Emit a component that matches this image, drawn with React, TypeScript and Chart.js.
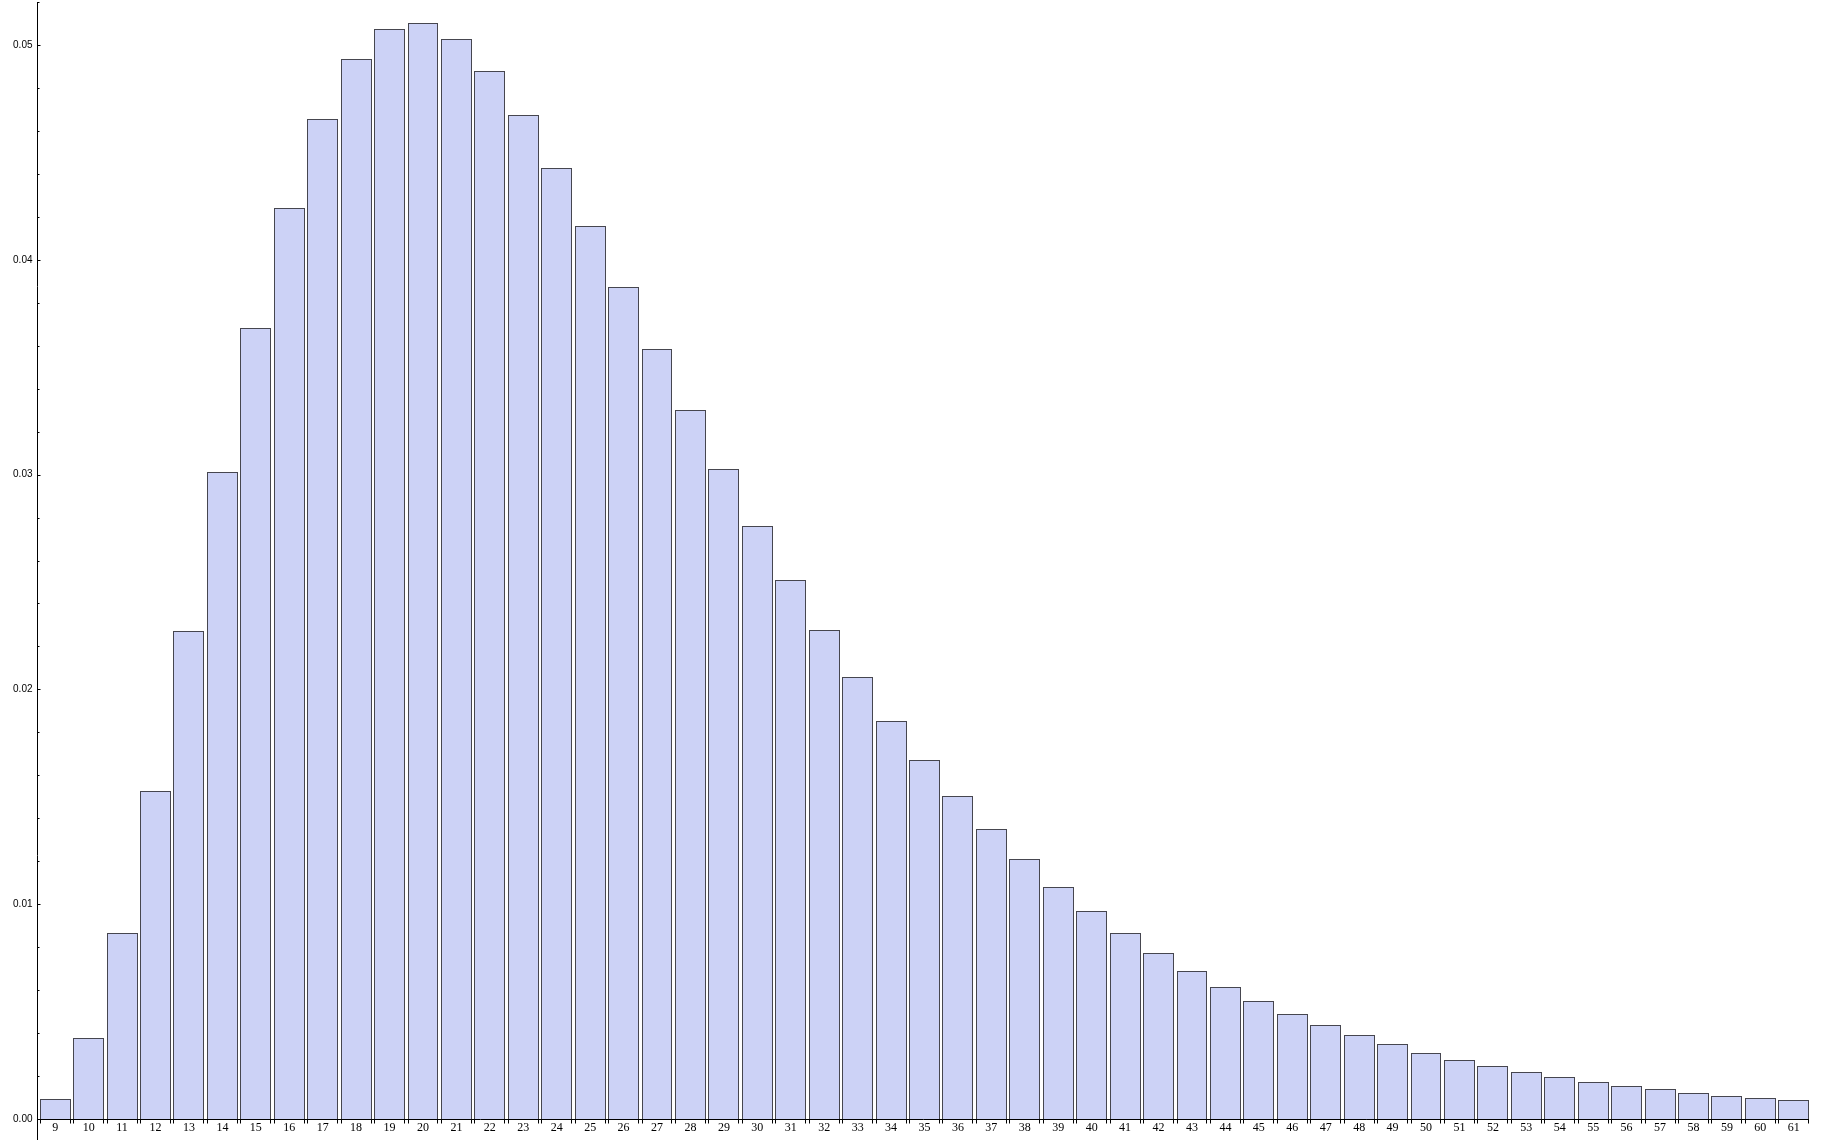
import { useEffect, useRef } from "react";
import Chart from "chart.js/auto";

const WIDTH = 1847;
const HEIGHT = 1143;

// outcome values on the x axis
const CATEGORIES = [
  9, 10, 11, 12, 13, 14, 15, 16, 17, 18, 19, 20, 21, 22, 23, 24, 25, 26, 27,
  28, 29, 30, 31, 32, 33, 34, 35, 36, 37, 38, 39, 40, 41, 42, 43, 44, 45, 46,
  47, 48, 49, 50, 51, 52, 53, 54, 55, 56, 57, 58, 59, 60, 61,
];

// probability of each outcome
const PROBABILITIES = [
  0.00093, 0.00379, 0.00866, 0.01527, 0.02272, 0.03012, 0.03683, 0.04241,
  0.04657, 0.04935, 0.05074, 0.05102, 0.05028, 0.04879, 0.04674, 0.04427,
  0.04157, 0.03873, 0.03585, 0.03301, 0.03026, 0.02761, 0.02509, 0.02277,
  0.02058, 0.01853, 0.01671, 0.01504, 0.0135, 0.0121, 0.0108, 0.00968,
  0.00866, 0.00773, 0.00689, 0.00615, 0.00549, 0.00489, 0.00438, 0.00391,
  0.00349, 0.00307, 0.00274, 0.00247, 0.00219, 0.00196, 0.00172, 0.00154,
  0.0014, 0.00121, 0.00107, 0.00098, 0.00088,
];

const Y_MAX = 0.052;
const Y_STEP = 0.002;

const isMajor = (v: number) => {
  const n = v * 100;
  return Math.abs(n - Math.round(n)) < 1e-6;
};

// snap bar rectangles to whole pixels so the outlines stay crisp
const snapPlugin = {
  id: "snapBars",
  beforeDatasetsDraw(chart: any) {
    chart.getDatasetMeta(0).data.forEach((bar: any) => {
      const left = Math.round(bar.x - bar.width / 2);
      const right = Math.round(bar.x + bar.width / 2);
      bar.width = right - left;
      bar.x = left + bar.width / 2;
      bar.y = Math.round(bar.y);
      bar.base = Math.round(bar.base);
    });
  },
};

// Mathematica-style axes: y axis a bit left of the first bar, ticks at bar edges
const axesPlugin = {
  id: "mmaAxes",
  afterDraw(chart: any) {
    const { ctx, chartArea, scales } = chart;
    const yScale = scales.y;
    const meta = chart.getDatasetMeta(0);
    const axisX = Math.round(chartArea.left - 2) + 0.5;
    const zeroY = Math.round(yScale.getPixelForValue(0)) + 0.5;
    const bars = meta.data;
    const last = bars[bars.length - 1];
    const rightEnd = last.x + last.width / 2;

    ctx.save();
    ctx.strokeStyle = "#000";
    ctx.lineWidth = 1;

    ctx.beginPath();
    ctx.moveTo(axisX, chartArea.top);
    ctx.lineTo(axisX, chart.height - 3);
    ctx.moveTo(axisX, zeroY);
    ctx.lineTo(rightEnd, zeroY);
    ctx.stroke();

    // x ticks at both edges of every bar
    ctx.beginPath();
    bars.forEach((bar: any) => {
      const l = Math.round(bar.x - bar.width / 2) + 0.5;
      const r = Math.round(bar.x + bar.width / 2) - 0.5;
      ctx.moveTo(l, zeroY);
      ctx.lineTo(l, zeroY + 4);
      ctx.moveTo(r, zeroY);
      ctx.lineTo(r, zeroY + 4);
    });
    ctx.stroke();

    // y ticks pointing into the plot
    ctx.beginPath();
    yScale.ticks.forEach((t: any) => {
      const py = Math.round(yScale.getPixelForValue(t.value)) + 0.5;
      const len = isMajor(t.value) ? 3 : 2;
      ctx.moveTo(axisX, py);
      ctx.lineTo(axisX + len, py);
    });
    ctx.stroke();
    ctx.restore();
  },
};

export default function App() {
  const chartRef = useRef<HTMLCanvasElement>(null);
  const chartInstanceRef = useRef<Chart | null>(null);

  useEffect(() => {
    if (!chartRef.current) return;
    document.body.style.margin = "0";

    if (chartInstanceRef.current) {
      chartInstanceRef.current.destroy();
    }

    const ctx = chartRef.current.getContext("2d");
    if (!ctx) return;

    chartInstanceRef.current = new Chart(ctx, {
      type: "bar",
      data: {
        labels: CATEGORIES.map(String),
        datasets: [
          {
            data: PROBABILITIES,
            backgroundColor: "rgb(204, 210, 246)",
            borderColor: "#46464f",
            borderWidth: 1,
            barPercentage: 0.925,
            categoryPercentage: 1,
          },
        ],
      },
      options: {
        responsive: false,
        animation: false,
        devicePixelRatio: 1,
        layout: {
          padding: { left: 0, right: WIDTH - 1810.5, top: 2, bottom: 0 },
        },
        plugins: {
          legend: { display: false },
          tooltip: { enabled: false },
        },
        scales: {
          x: {
            type: "category",
            offset: true,
            grid: { display: false, drawTicks: false },
            border: { display: false },
            ticks: {
              autoSkip: false,
              maxRotation: 0,
              padding: 2,
              color: "#000",
              font: { family: "Liberation Serif", size: 12 },
            },
            afterFit: (s: any) => {
              s.height = HEIGHT - 1119;
              s.paddingLeft = 0;
              s.paddingRight = 0;
            },
          },
          y: {
            min: 0,
            max: Y_MAX,
            grid: { display: false, drawTicks: false },
            border: { display: false },
            ticks: {
              stepSize: Y_STEP,
              padding: 6,
              color: "#000",
              font: { family: "Liberation Sans", size: 10 },
              callback: (v: any) =>
                isMajor(Number(v)) ? Number(v).toFixed(2) : "",
            },
            afterFit: (s: any) => {
              s.width = 38.5;
              s.paddingTop = 0;
              s.paddingBottom = 0;
            },
          },
        },
      },
      plugins: [snapPlugin, axesPlugin],
    });

    return () => {
      if (chartInstanceRef.current) {
        chartInstanceRef.current.destroy();
        chartInstanceRef.current = null;
      }
    };
  }, []);

  return (
    <div style={{ width: WIDTH, height: HEIGHT, background: "#fff" }}>
      <canvas
        ref={chartRef}
        width={WIDTH}
        height={HEIGHT}
        style={{ width: WIDTH, height: HEIGHT, display: "block" }}
      ></canvas>
    </div>
  );
}
